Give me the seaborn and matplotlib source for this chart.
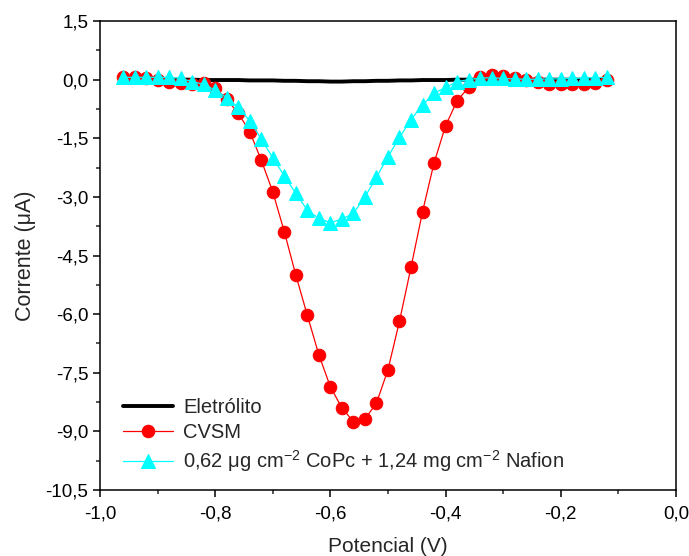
import numpy as np
import matplotlib
matplotlib.use("Agg")
import matplotlib.pyplot as plt
import seaborn as sns
from matplotlib.ticker import MultipleLocator, FuncFormatter

sns.set_style("ticks")
plt.rcParams["font.family"] = ["Liberation Sans", "DejaVu Sans"]
plt.rcParams["mathtext.fontset"] = "custom"
plt.rcParams["mathtext.rm"] = "Liberation Sans"

# potencial (V), passo de 0,02 V
potencial = np.round(np.arange(-0.96, -0.119, 0.02), 2)

eletrolito = [0.00, 0.00, 0.00, 0.00, 0.00, 0.00, 0.00, -0.01, -0.01, -0.01,
              -0.01, -0.02, -0.02, -0.02, -0.03, -0.03, -0.04, -0.04, -0.05, -0.05,
              -0.04, -0.04, -0.03, -0.03, -0.02, -0.02, -0.01, -0.01, -0.01, 0.00,
              0.00, 0.00, 0.00, 0.00, 0.00, 0.00, 0.00, 0.00, 0.00, 0.00,
              0.00, 0.00, 0.00]

cvsm = [0.08, 0.06, 0.03, 0.00, -0.05, -0.08, -0.10, -0.08, -0.22, -0.50,
        -0.86, -1.33, -2.06, -2.87, -3.89, -5.00, -6.03, -7.04, -7.86, -8.40,
        -8.75, -8.68, -8.28, -7.42, -6.18, -4.80, -3.38, -2.13, -1.18, -0.54,
        -0.20, 0.07, 0.12, 0.10, 0.05, -0.02, -0.07, -0.10, -0.12, -0.12,
        -0.10, -0.08, -0.02]

copc = [0.06, 0.06, 0.06, 0.06, 0.06, 0.03, -0.05, -0.12, -0.27, -0.46,
        -0.71, -1.05, -1.52, -2.00, -2.46, -2.91, -3.34, -3.55, -3.66, -3.57,
        -3.42, -3.00, -2.50, -1.97, -1.48, -1.02, -0.65, -0.35, -0.20, -0.05,
        0.00, 0.04, 0.05, 0.03, 0.02, 0.01, 0.01, 0.02, 0.02, 0.03,
        0.04, 0.05, 0.06]

label_copc = (r"0,62 μg cm$^{\mathregular{-2}}$ CoPc + "
              r"1,24 mg cm$^{\mathregular{-2}}$ Nafion")

fig = plt.figure(figsize=(6.89, 5.56), dpi=100)
ax = fig.add_axes([0.1451, 0.1187, 0.8360, 0.8435])

sns.lineplot(x=potencial, y=eletrolito, color="black", linewidth=2.8,
             label="Eletrólito", ax=ax, sort=False)
sns.lineplot(x=potencial, y=cvsm, color="red", linewidth=0.9,
             marker="o", markersize=9, markeredgecolor="red",
             label="CVSM", ax=ax, sort=False)
sns.lineplot(x=potencial, y=copc, color="cyan", linewidth=0.9,
             marker="^", markersize=10.5, markeredgecolor="cyan",
             label=label_copc, ax=ax, sort=False)

ax.set_xlim(-1.0, 0.0)
ax.set_ylim(-10.5, 1.5)
ax.xaxis.set_major_locator(MultipleLocator(0.2))
ax.xaxis.set_minor_locator(MultipleLocator(0.1))
ax.yaxis.set_major_locator(MultipleLocator(1.5))
ax.yaxis.set_minor_locator(MultipleLocator(0.75))

virgula = FuncFormatter(lambda v, p: f"{v:.1f}".replace(".", ","))
ax.xaxis.set_major_formatter(virgula)
ax.yaxis.set_major_formatter(virgula)

ax.tick_params(which="major", direction="out", length=5, width=1.1,
               labelsize=13.5, colors="black")
ax.tick_params(axis="x", which="major", pad=6.5)
ax.tick_params(which="minor", direction="out", length=3, width=1.1)
ax.tick_params(top=False, right=False)
for s in ax.spines.values():
    s.set_linewidth(1.1)
    s.set_color("black")

ax.set_xlabel("Potencial (V)", fontsize=15, labelpad=10)
ax.set_ylabel("Corrente (μA)", fontsize=15.5, labelpad=7)

ax.legend(loc="lower left", frameon=False, fontsize=14.5, handlelength=2.5,
          handletextpad=0.5, labelspacing=0.3, borderaxespad=0.4,
          bbox_to_anchor=(0.012, 0.0))

fig.savefig("out.png", dpi=100)
